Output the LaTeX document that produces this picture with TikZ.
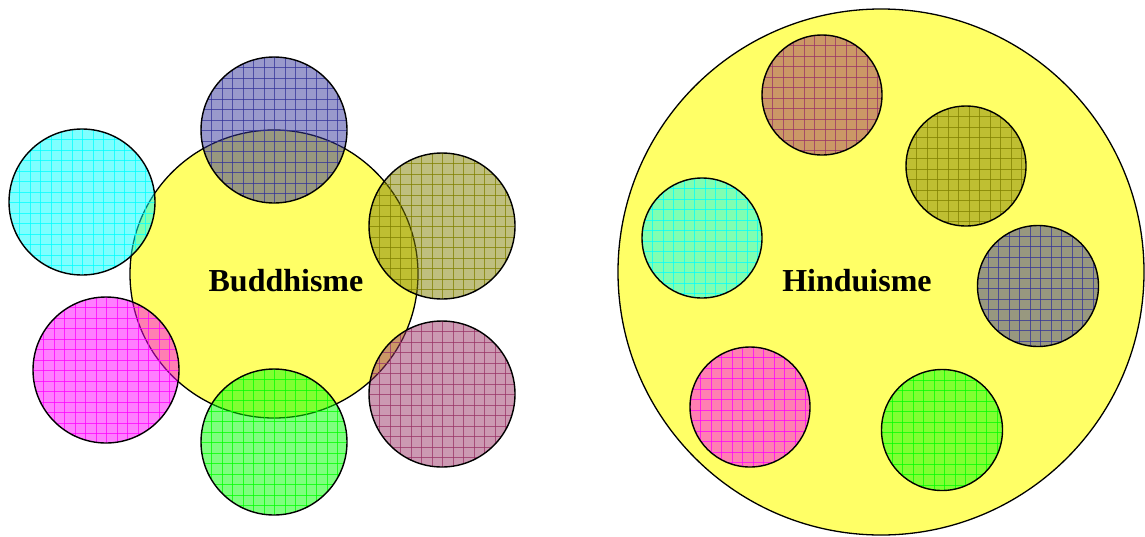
\documentclass[tikz,border=0pt]{standalone}
\usepackage{fontspec}
\setmainfont{Liberation Serif}
\usetikzlibrary{calc}
\definecolor{byellow}{HTML}{FFFF66}
\definecolor{cblue}{HTML}{333399}
\definecolor{ccyan}{HTML}{00FFFF}
\definecolor{colive}{HTML}{808000}
\definecolor{cmag}{HTML}{FF00FF}
\definecolor{cgreen}{HTML}{00FF00}
\definecolor{cmauve}{HTML}{993366}
\begin{document}
\begin{tikzpicture}[x=1pt,y=-1pt,
  bigc/.style={circle, minimum size=#1, inner sep=0pt, draw=black, line width=1.3pt, fill=byellow},
  smallc/.style 2 args={circle, minimum size=#1, inner sep=0pt, draw=black, line width=1.4pt,
    fill=#2, fill opacity=0.5,
    path picture={\foreach \k in {0,...,15}{
      \draw[#2, line width=0.6pt, draw opacity=0.75]
        ($(path picture bounding box.north west)+(\k*10.5pt,0pt)$) --
        ($(path picture bounding box.south west)+(\k*10.5pt,0pt)$);
      \draw[#2, line width=0.6pt, draw opacity=0.75]
        ($(path picture bounding box.north west)+(0pt,-\k*10.5pt)$) --
        ($(path picture bounding box.north east)+(0pt,-\k*10.5pt)$);
    }}},
  lbl/.style={font=\fontsize{32}{38}\selectfont\bfseries, text=black}]
\useasboundingbox (0,0) rectangle (1145,536);
% Buddhisme
\node[bigc=288] (bud) at (274,274) {};
\node[smallc={146}{cblue}]  (b1) at (274,130) {};
\node[smallc={146}{ccyan}]  (b2) at (82,202) {};
\node[smallc={146}{colive}] (b3) at (442,226) {};
\node[smallc={146}{cmag}]   (b4) at (106,370) {};
\node[smallc={146}{cgreen}] (b5) at (274,442) {};
\node[smallc={146}{cmauve}] (b6) at (442,394) {};
\node[lbl] (budt) at (286,281) {Buddhisme};
% Hinduisme
\node[bigc=526] (hin) at (881,272) {};
\node[smallc={120}{cmauve}] (h1) at (822,95) {};
\node[smallc={120}{colive}] (h2) at (966,166) {};
\node[smallc={120}{ccyan}]  (h3) at (702,238) {};
\node[smallc={121}{cblue}]  (h4) at (1038,286) {};
\node[smallc={120}{cmag}]   (h5) at (750,407) {};
\node[smallc={121}{cgreen}] (h6) at (942,430) {};
\node[lbl] (hint) at (857,281) {Hinduisme};
\end{tikzpicture}
\end{document}
